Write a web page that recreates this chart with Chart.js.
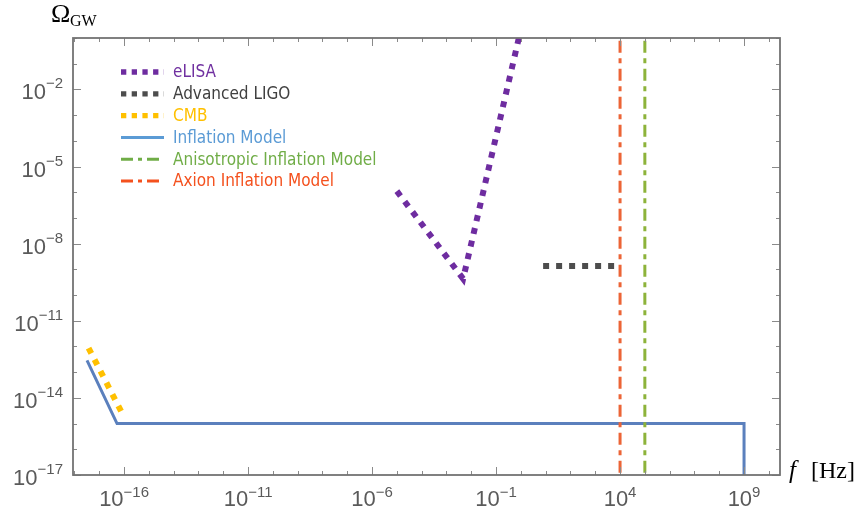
<!DOCTYPE html>
<html>
<head>
<meta charset="utf-8">
<script src="https://cdn.jsdelivr.net/npm/chart.js@4"></script>
<style>
  html, body { margin: 0; padding: 0; background: #fff; }
  #wrap { width: 865px; height: 514px; }
</style>
</head>
<body>
<div id="wrap"><canvas id="chartCanvas"></canvas></div>
<script>
// data (log-log)
const xRange = [Math.pow(10, -18.06), Math.pow(10, 10.45)];
const yRange = [1e-17, 1];

const elisaX = [1.0e-5, 4.7e-3, 0.83];
const elisaY = [1.1e-6, 4.3e-10, 1.0];

const ligoX = [7.9, 6.3e3];
const ligoY = [1.35e-9, 1.35e-9];

const cmbX = [3.7e-18, 7.9e-17];
const cmbY = [8.7e-13, 2.8e-15];

const inflationX = [3.2e-18, 5.2e-17, 1e9, 1e9];
const inflationY = [2.9e-13, 1e-15, 1e-15, 1e-18];

const anisoX = [1e5, 1e5];
const axionX = [1e4, 1e4];
const verticalY = [1e-18, 10];

const xMajorExp = [-16, -11, -6, -1, 4, 9];
const yMajorExp = [-17, -14, -11, -8, -5, -2];
const xMinorExp = [-18, -17, -16, -15, -14, -13, -12, -11, -10, -9, -8, -7, -6, -5, -4, -3, -2, -1, 0, 1, 2, 3, 4, 5, 6, 7, 8, 9, 10];
const yMinorExp = [-17, -16, -15, -14, -13, -12, -11, -10, -9, -8, -7, -6, -5, -4, -3, -2, -1, 0];

const legendLabels = ["eLISA", "Advanced LIGO", "CMB", "Inflation Model", "Anisotropic Inflation Model", "Axion Inflation Model"];

function pts(xs, ys) {
  return xs.map((x, i) => ({ x, y: ys[i] }));
}

const labelFont = '"DejaVu Sans Condensed", "DejaVu Sans", sans-serif';
const numFont = '"Liberation Sans", Arial, sans-serif';
const serif = '"Liberation Serif", "Times New Roman", serif';

function drawPow(ctx, exp, x, baseY, supDy, align) {
  const base = "10";
  const sup = (exp < 0 ? "\u2212" : "") + Math.abs(exp);
  ctx.font = "22px " + numFont;
  const wb = ctx.measureText(base).width;
  ctx.font = "15px " + numFont;
  const ws = ctx.measureText(sup).width;
  const total = wb + ws;
  let left = align === "right" ? x - total : x - total / 2;
  ctx.textAlign = "left";
  ctx.textBaseline = "alphabetic";
  ctx.fillStyle = "#5a5a5a";
  ctx.font = "22px " + numFont;
  ctx.fillText(base, left, baseY);
  ctx.font = "15px " + numFont;
  ctx.fillText(sup, left + wb, baseY - supDy);
}

const framePlugin = {
  id: "frame",
  afterDraw(chart) {
    const ctx = chart.ctx;
    const a = chart.chartArea;
    const xs = chart.scales.x;
    const ys = chart.scales.y;
    ctx.save();

    // ticks on all four sides, pointing inward
    ctx.strokeStyle = "#8a8a8a";
    ctx.lineWidth = 1;
    xMinorExp.forEach(e => {
      const px = Math.round(xs.getPixelForValue(Math.pow(10, e))) + 0.5;
      const len = xMajorExp.includes(e) ? 8 : 4;
      ctx.beginPath();
      ctx.moveTo(px, a.bottom); ctx.lineTo(px, a.bottom - len);
      ctx.moveTo(px, a.top); ctx.lineTo(px, a.top + len);
      ctx.stroke();
    });
    yMinorExp.forEach(e => {
      const py = Math.round(ys.getPixelForValue(Math.pow(10, e))) + 0.5;
      const len = yMajorExp.includes(e) ? 8 : 4;
      ctx.beginPath();
      ctx.moveTo(a.left, py); ctx.lineTo(a.left + len, py);
      ctx.moveTo(a.right, py); ctx.lineTo(a.right - len, py);
      ctx.stroke();
    });

    ctx.strokeStyle = "#737373";
    ctx.lineWidth = 1.8;
    ctx.strokeRect(a.left, a.top, a.right - a.left, a.bottom - a.top);

    // tick labels
    xMajorExp.forEach(e => {
      const px = xs.getPixelForValue(Math.pow(10, e));
      drawPow(ctx, e, px, 506, 9, "center");
    });
    yMajorExp.forEach(e => {
      const py = ys.getPixelForValue(Math.pow(10, e));
      drawPow(ctx, e, a.left - 10, py + 10, 11, "right");
    });

    // axis titles
    ctx.fillStyle = "#000";
    ctx.textAlign = "left";
    ctx.font = "26px " + serif;
    ctx.fillText("\u03A9", 51, 22);
    ctx.font = "16px " + serif;
    ctx.fillText("GW", 70, 26);
    ctx.font = "italic 25px " + serif;
    ctx.fillText("f", 789, 478);
    ctx.font = "24px " + serif;
    ctx.fillText("[Hz]", 811, 478);

    // legend
    chart.data.datasets.forEach((ds, i) => {
      const y = 72 + i * 21.8;
      ctx.strokeStyle = ds.legendLine;
      ctx.lineWidth = ds.legendWidth;
      ctx.lineCap = "butt";
      ctx.setLineDash(ds.legendDash);
      ctx.beginPath();
      ctx.moveTo(121, y); ctx.lineTo(164, y);
      ctx.stroke();
      ctx.setLineDash([]);
      ctx.fillStyle = ds.legendText;
      ctx.font = "17px " + labelFont;
      ctx.textBaseline = "middle";
      ctx.fillText(legendLabels[i], 173, y + 1);
    });
    ctx.restore();
  }
};

const dotted = [6, 7];
const dashDot = [12, 5.5, 5, 5.5];

new Chart(document.getElementById("chartCanvas"), {
  type: "line",
  data: {
    datasets: [
      { label: legendLabels[0], data: pts(elisaX, elisaY), borderColor: "#6e2ca0", borderWidth: 6, borderDash: dotted,
        legendLine: "#6e2ca0", legendText: "#7030a0", legendWidth: 5.3, legendDash: [5.3, 5.4], order: 2 },
      { label: legendLabels[1], data: pts(ligoX, ligoY), borderColor: "#4d4d4d", borderWidth: 6, borderDash: dotted,
        legendLine: "#4d4d4d", legendText: "#404040", legendWidth: 5.3, legendDash: [5.3, 5.4], order: 2 },
      { label: legendLabels[2], data: pts(cmbX, cmbY), borderColor: "#ffc000", borderWidth: 6, borderDash: dotted,
        legendLine: "#ffc000", legendText: "#ffc000", legendWidth: 5.3, legendDash: [5.3, 5.4], order: 3 },
      { label: legendLabels[3], data: pts(inflationX, inflationY), borderColor: "#5b80bd", borderWidth: 3, borderDash: [],
        legendLine: "#5b9bd5", legendText: "#5b9bd5", legendWidth: 3, legendDash: [], order: 2 },
      { label: legendLabels[4], data: pts(anisoX, verticalY), borderColor: "#8db33a", borderWidth: 3, borderDash: dashDot,
        legendLine: "#70ad47", legendText: "#70ad47", legendWidth: 3, legendDash: [12, 5, 4, 5], order: 1 },
      { label: legendLabels[5], data: pts(axionX, verticalY), borderColor: "#ec6436", borderWidth: 3, borderDash: dashDot,
        legendLine: "#f4511e", legendText: "#f4511e", legendWidth: 3, legendDash: [12, 5, 4, 5], order: 1 }
    ].map(d => Object.assign({ pointRadius: 0, fill: false, tension: 0, clip: 0, borderCapStyle: "butt" }, d))
  },
  options: {
    responsive: true,
    maintainAspectRatio: false,
    animation: false,
    layout: { padding: { left: 73, right: 85, top: 38, bottom: 39 } },
    plugins: { legend: { display: false }, tooltip: { enabled: false } },
    scales: {
      x: { type: "logarithmic", min: xRange[0], max: xRange[1], display: false },
      y: { type: "logarithmic", min: yRange[0], max: yRange[1], display: false }
    }
  },
  plugins: [framePlugin]
});
</script>
</body>
</html>
